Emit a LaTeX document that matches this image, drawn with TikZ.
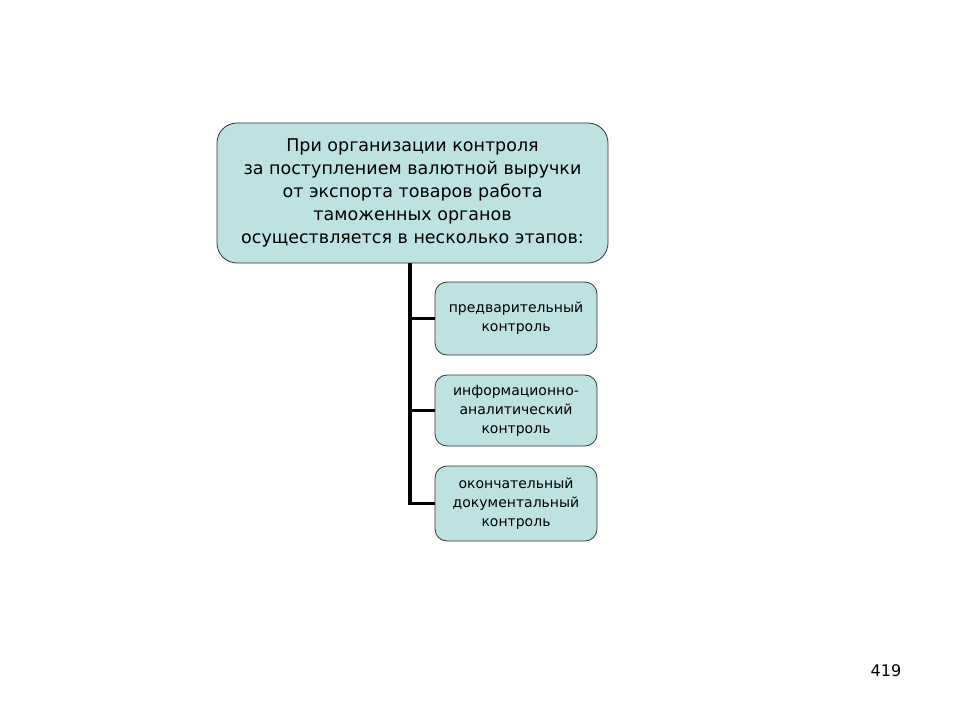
\documentclass[tikz,border=0pt]{standalone}
\usepackage{fontspec}
\setmainfont{DejaVu Sans}
\begin{document}
\begin{tikzpicture}[x=1pt,y=-1pt,
  box/.style={draw=black!80,fill={rgb,255:red,190;green,226;blue,226},rounded corners=12pt,line width=0.8pt,align=center,inner sep=0pt},
  big/.style={box,rounded corners=20pt,minimum width=391pt,minimum height=140pt,font=\fontsize{17.5}{23}\selectfont},
  small/.style={box,minimum width=162pt,font=\fontsize{14}{19}\selectfont},
  link/.style={line width=3.5pt}]
\useasboundingbox (0,0) rectangle (960,720);
\node[big] (top) at (412.5,193) {При организации контроля\\за поступлением валютной выручки\\от экспорта товаров работа\\таможенных органов\\осуществляется в несколько этапов:};
\node[small,minimum height=73pt] (a) at (516,318.5) {предварительный\\контроль};
\node[small,minimum height=71pt] (b) at (516,410.5) {информационно-\\аналитический\\контроль};
\node[small,minimum height=75pt] (c) at (516,503.5) {окончательный\\документальный\\контроль};
\coordinate (v) at (410,263);
\coordinate (e) at (410,503.5);
\draw[link] (v) -- (e) -- (c.west);
\draw[link] (v |- a.west) -- (a.west);
\draw[link] (v |- b.west) -- (b.west);
\node[font=\fontsize{16}{18}\selectfont] (n) at (886,671) {419};
\end{tikzpicture}
\end{document}
